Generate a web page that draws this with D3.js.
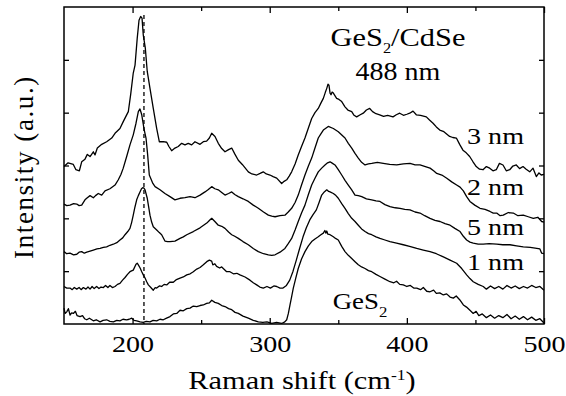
<!DOCTYPE html>
<html><head><meta charset="utf-8">
<script src="https://cdn.jsdelivr.net/npm/d3@7"></script>
<style>html,body{margin:0;padding:0;background:#fff;}svg{display:block;}</style>
</head><body><svg id="chart" width="566" height="396"></svg>
<script>
const FONT = "Liberation Serif";
const xDomain = [150, 500];
const yDomain = [0, 60];
const xMajorTicks = [200, 300, 400, 500];
const xMinorTicks = [250, 350, 450];
const yTicks = [10, 20, 30, 40, 50];
const xTitle = "Raman shift (cm";
const xTitleSup = "-1";
const yTitle = "Intensity (a.u.)";
const curveNames = ["3 nm", "2 nm", "5 nm", "1 nm", "GeS2"];
const dashedLineX = 208.3;

const curve3nm = [[150,29.8],[153,30.5],[156.8,30.2],[158.7,29.2],[161.2,29.0],[162.9,30.7],[165.3,31.2],[167,32.1],[169,31.7],[171.4,32.6],[172.6,32.0],[174.3,33.3],[177.5,34.0],[181.1,34.5],[184.8,35.2],[187.2,36.1],[190.8,37.0],[193.2,38.3],[196.9,40.2],[198.6,43.4],[200.5,47.5],[201.8,49.0],[203.4,54.1],[204.7,57.5],[205.9,58.2],[206.9,57.9],[207.8,54.7],[209.3,52.2],[210.7,47.8],[212.7,44.6],[215.1,40.8],[217.6,37.0],[219.5,34.5],[222.4,34.5],[224.9,34.4],[226.5,33.6],[228.5,32.8],[230.9,33.3],[233.3,33.6],[235.8,34.2],[238.2,33.9],[240.6,34.2],[243.1,33.9],[245.5,34.5],[249.2,34.0],[251.6,34.5],[254,34.6],[256,35.2],[257.7,36.1],[260.1,35.5],[262.5,34.2],[265,33.2],[267.4,32.6],[270,33.0],[272.3,33.3],[274.5,32.2],[277.1,31.0],[280,30.2],[284.4,28.8],[287,28.4],[290.5,28.2],[293,28.5],[295.3,28.8],[297.5,28.4],[300.2,28.2],[302.5,27.9],[305.1,27.6],[308.7,26.6],[310.5,27.0],[312.4,27.3],[314.2,28.0],[316,28.8],[318.5,30.3],[320.8,32.0],[323.2,33.6],[325.7,35.2],[328.2,37.1],[330.6,38.9],[333,40.0],[335.4,40.8],[337.3,41.8],[339.1,42.7],[340.5,43.8],[341.6,44.6],[342.5,45.4],[343.2,45.2],[344,43.7],[344.7,43.4],[345.5,43.9],[346.4,43.7],[348.8,42.7],[350.5,42.5],[352.5,42.1],[354.9,41.1],[357,40.5],[359.8,40.2],[361.5,39.5],[363.4,39.2],[366,39.6],[368.2,39.9],[370.5,40.5],[372.9,40.8],[375,40.2],[377.5,39.8],[380.2,39.6],[383,39.3],[386,39.5],[389.9,39.2],[392.3,39.6],[394.8,39.9],[397.5,39.5],[400,39.7],[402.1,39.9],[404.5,40.3],[406.9,39.6],[410,39.5],[414.2,39.2],[416.5,38.6],[419.1,38.0],[421.5,37.3],[424,36.7],[427,36.4],[431.2,35.5],[433.5,35.3],[436.1,35.2],[438.5,34.0],[440.9,32.9],[443.3,32.4],[445.8,31.7],[448,30.8],[450.6,29.8],[453,29.3],[455.5,29.2],[458,29.8],[460.4,29.5],[462.8,29.0],[465.2,29.2],[467.5,30.4],[470.1,30.1],[472.5,29.0],[475,29.2],[477.3,29.9],[479.8,30.1],[482.2,29.4],[484.7,29.8],[487,29.3],[489.6,28.8],[492,29.5],[494.4,27.9],[496.3,28.6],[498,28.2],[500,28.3]];

const curve2nm = [[150,22.7],[152,22.4],[154.4,22.5],[157,22.8],[159.3,22.7],[161,22.4],[162.9,22.5],[165.3,23.5],[167,23.9],[169,24.3],[171.4,23.9],[173,24.3],[175,24.7],[177.5,24.4],[179.9,25.2],[183.5,25.6],[187.2,26.3],[189.6,27.3],[191.5,28.3],[193.2,29.5],[195.7,31.7],[198.1,33.9],[200.5,35.8],[202.5,38.0],[204.2,40.2],[205.4,40.7],[206.7,39.6],[208.3,37.0],[209.8,35.2],[211,32.0],[212.2,28.2],[213.2,27.6],[214.8,26.6],[216.4,26.0],[220,25.4],[223.6,24.7],[227.3,24.1],[230.9,23.5],[234.6,23.8],[238.2,23.9],[241.9,24.1],[245.5,23.9],[249.2,24.4],[252.8,25.0],[255,25.4],[257.7,26.0],[260,25.6],[262.5,25.4],[265,24.9],[267.4,24.4],[270,24.7],[272.3,25.0],[274.5,24.5],[277.1,24.1],[280.5,23.7],[284.4,23.2],[288,22.5],[291.7,21.9],[295.5,21.2],[299,20.6],[301.5,20.4],[303.9,20.3],[307.5,20.5],[311.1,20.6],[313.5,21.2],[316,21.9],[318.5,23.0],[320.8,24.4],[323.2,26.3],[325.7,28.2],[328.2,29.9],[330.6,31.4],[333,33.3],[335.4,35.2],[337.3,36.0],[339.1,36.7],[342.7,37.4],[346.4,37.0],[350,36.4],[354.9,35.2],[357.3,34.2],[359.8,33.3],[362.2,32.3],[364.6,31.4],[367,30.6],[369.5,30.1],[372,30.3],[374.4,30.4],[378.5,30.6],[382.8,30.4],[387.5,30.2],[392.6,30.1],[397.5,30.3],[402.3,30.4],[406,30.1],[409.6,30.1],[413.5,29.8],[416.9,29.5],[419.5,29.0],[421.8,28.5],[425.5,28.2],[429.1,27.6],[432.7,26.9],[436.3,26.3],[438.8,25.9],[441.2,25.2],[443.6,24.1],[446,23.2],[449.5,22.5],[453.3,21.9],[457,21.7],[460.6,21.3],[463,21.0],[465.5,21.0],[468,20.5],[470.3,20.6],[474,21.1],[477.6,21.0],[481,20.5],[484.9,20.6],[488.5,20.3],[492.2,20.0],[495.5,20.2],[498.3,19.4],[500,19.3]];

const curve5nm = [[150,13.7],[152,13.3],[154.4,13.4],[157,13.1],[159.3,13.2],[161,13.6],[162.9,13.7],[164.8,13.4],[166.6,13.6],[169,13.8],[171.4,14.0],[174,14.2],[176.3,14.3],[178.7,14.5],[181.1,14.6],[183.5,14.9],[186,15.1],[188.5,15.4],[190.8,15.9],[192.8,16.3],[194.5,16.9],[196.5,17.5],[198.1,18.1],[199.3,19.2],[200.5,20.6],[201.7,22.1],[203,23.5],[204.2,24.3],[205.4,25.0],[206.5,25.6],[207.4,25.8],[208.3,25.7],[209.1,25.4],[210.7,23.8],[211.7,22.2],[212.7,20.6],[213.9,19.3],[215.1,18.4],[217.6,17.8],[219.5,17.3],[221.2,16.9],[223.6,15.7],[225.5,15.6],[227.3,15.6],[230.9,15.7],[234.6,16.2],[237,16.5],[239.5,16.9],[244.3,17.5],[249.2,18.2],[254.1,19.1],[256,19.6],[257.7,20.0],[260,19.4],[262.5,18.7],[265,18.5],[267.4,18.1],[270,17.4],[272.3,16.9],[274.5,16.6],[277.1,16.2],[280.5,15.6],[284.4,15.0],[288,14.3],[291.7,13.7],[295.5,13.3],[299,13.1],[301.5,13.0],[303.9,13.1],[307.5,13.6],[311.1,14.3],[313.5,15.2],[316,16.2],[318.5,17.8],[320.8,19.4],[323.2,21.0],[325.7,22.5],[328.2,24.5],[330.6,26.3],[333,27.6],[335.4,28.8],[337.9,29.5],[340.3,30.1],[342.2,30.5],[344,30.7],[345.8,30.4],[347.6,30.1],[350,29.2],[352.5,28.2],[354.9,27.2],[357.3,26.3],[359.8,25.4],[362.2,24.4],[364.6,24.3],[367.1,24.1],[370.5,23.7],[374.4,23.5],[377.5,23.3],[380.4,23.2],[384,22.6],[387.7,22.2],[391.5,22.0],[395,21.9],[398.5,21.7],[402.3,21.6],[406,21.2],[409.6,21.0],[413,20.5],[416.9,20.0],[420.5,19.6],[424.2,19.4],[427.8,19.0],[431.5,18.7],[435,18.1],[438.8,17.5],[441.2,16.6],[443.6,15.9],[446,15.5],[448.4,15.3],[452,15.1],[455.7,15.1],[460,15.2],[465.5,15.1],[470,15.0],[475.2,15.0],[480,14.8],[484.9,14.6],[490,14.5],[494.7,14.3],[497,14.2],[498.3,13.4],[500,13.3]];

const curve1nm = [[150,7.1],[152,6.8],[154.4,6.8],[156,6.5],[157.5,6.9],[159.3,6.6],[161,6.9],[162.5,6.5],[164.1,6.9],[166,6.6],[167.5,7.0],[169,6.6],[170.5,7.1],[172,6.7],[173.8,7.1],[175.5,6.7],[177,7.0],[178.7,6.9],[180.3,7.3],[182,6.9],[183.5,7.3],[185.3,6.9],[187.2,7.1],[189,7.5],[190.8,7.7],[192.7,8.3],[194.5,8.8],[196.3,9.4],[198.1,9.9],[200.5,10.2],[202.5,11.3],[203.4,11.5],[204.2,11.2],[205.5,10.6],[206.7,9.9],[208,9.2],[209.1,8.7],[210.3,8.0],[211.5,7.4],[213.3,6.9],[215.1,6.4],[216.5,6.9],[217.6,6.8],[219.5,7.2],[221.2,7.1],[223,7.5],[224.9,7.4],[227,7.9],[229.7,7.9],[232,8.4],[234.6,8.7],[237,8.9],[239.5,9.3],[242,9.5],[244.3,9.9],[246.8,10.4],[249.2,10.7],[251.6,11.2],[254.1,11.8],[256,12.1],[257.7,11.9],[258.5,11.2],[260,11.4],[261.3,10.9],[263.5,10.6],[265,10.8],[268.6,9.9],[271,9.9],[273.5,9.5],[276,9.6],[278.3,9.3],[282,8.9],[285.6,8.3],[288,7.8],[290.5,7.4],[292.8,7.0],[295.3,6.8],[298,7.1],[300.5,6.8],[303,7.2],[305.1,7.1],[307.5,6.8],[309.7,6.8],[312.2,7.3],[314.6,8.3],[317,10.0],[319.4,12.1],[321.8,14.3],[324.3,16.5],[326.7,18.2],[329.2,19.7],[331.6,20.7],[334,21.6],[336,23.0],[337.9,24.4],[339.8,25.0],[341.6,25.4],[343,25.1],[344,25.0],[346.4,24.7],[348.3,24.3],[350,23.8],[352.5,22.8],[354.9,21.9],[357.3,20.9],[359.8,20.0],[362.2,19.4],[364.6,18.7],[367,18.0],[369.5,17.5],[372,17.1],[374.4,16.9],[377.5,16.5],[380.4,16.2],[384,15.9],[387.7,15.6],[392.5,15.3],[397.4,15.0],[402,14.7],[407.2,14.3],[412,14.0],[416.9,13.7],[421.5,13.3],[426.6,12.7],[431.5,12.1],[436.3,11.5],[440,10.5],[443.6,9.3],[446,8.6],[448.4,8.0],[452,7.5],[455.7,7.1],[458,6.6],[461,7.2],[464,6.7],[467,7.1],[470,6.6],[473,7.3],[476,6.8],[479,7.2],[482,6.7],[485,7.1],[488,6.8],[491,7.3],[494,6.9],[497,7.1],[500,6.4]];

const curveGeS2 = [[150,3.0],[150.8,2.0],[152,2.3],[153.2,2.9],[154.4,1.7],[155.6,2.1],[156.8,2.0],[158.3,2.4],[159.5,1.6],[161.7,1.4],[163.5,1.6],[165,1.0],[166.6,0.8],[168.5,1.1],[171.4,0.6],[173.5,0.8],[176.3,0.4],[178.5,0.7],[181.1,0.8],[183.5,0.5],[186,0.4],[188.5,0.7],[190.8,0.6],[193,0.9],[195.7,0.8],[197.5,0.9],[199.4,1.1],[201,0.7],[203,0.6],[205.5,0.4],[207.8,0.3],[210,0.5],[212.7,0.4],[215,0.7],[217.6,0.6],[220,0.9],[222.4,0.8],[224.8,1.1],[227.3,1.4],[229.7,1.9],[232.2,2.0],[234.6,2.6],[237,2.5],[239.5,2.9],[241.9,3.0],[244.3,3.4],[246.8,3.3],[249.2,3.5],[251.6,3.6],[254,3.9],[256,4.0],[257.7,4.5],[260,4.1],[262.5,3.9],[265,3.5],[267.4,3.3],[270,2.9],[272.3,2.7],[274.7,2.2],[277.1,2.0],[280.5,1.5],[284.4,1.1],[288,0.7],[291.7,0.4],[295,0.3],[298,0.4],[301.5,0.1],[305,0.3],[308.7,0.1],[311,0.4],[312.4,0.8],[313.6,2.0],[314.8,3.6],[316,5.2],[317.2,6.8],[319,8.7],[320.8,10.5],[323.2,12.3],[325.7,13.7],[328.2,14.8],[330.6,15.6],[333,16.1],[335.4,16.5],[337.3,16.9],[339.1,17.2],[340.2,17.7],[341,17.2],[341.6,17.6],[342.4,17.0],[344,16.9],[346.4,16.5],[348,16.2],[350,15.9],[352.5,14.7],[354.9,13.7],[357.3,13.0],[359.8,12.4],[362.2,11.8],[364.6,11.2],[367,10.8],[369.5,10.5],[372,10.1],[374.4,9.9],[377.5,9.4],[380.4,9.0],[384,8.5],[387.7,8.0],[390.5,7.8],[392.5,8.1],[394.8,7.5],[397.4,7.4],[400,7.1],[402.5,7.3],[405,6.8],[407.2,6.8],[410,6.5],[412,6.9],[414.5,6.2],[416.9,6.1],[419.5,6.4],[421.5,5.8],[424,5.9],[426.6,5.5],[429,5.7],[431.5,5.1],[433.9,4.9],[436,5.3],[438.5,4.6],[441.2,3.6],[443.5,3.2],[446,2.6],[448.4,2.0],[450.5,2.4],[452.5,1.6],[455,1.9],[458,1.2],[461,1.7],[464,1.1],[467,1.6],[470,1.2],[473,1.8],[476,1.0],[479,1.5],[482,0.9],[485,1.4],[488,0.8],[491,1.3],[494,0.7],[497,1.0],[500,0.2]];

const curves = [curve3nm, curve2nm, curve5nm, curve1nm, curveGeS2];

const svg = d3.select("#chart");
const W = 566, H = 396;
const plot = {left: 64, right: 544, top: 7, bottom: 324};
const x = d3.scaleLinear().domain(xDomain).range([plot.left, plot.right]);
const y = d3.scaleLinear().domain(yDomain).range([plot.bottom, plot.top]);

svg.append("rect").attr("width", W).attr("height", H).attr("fill", "#fff");

const line = d3.line().x(d => x(d[0])).y(d => y(d[1]));
svg.append("g").selectAll("path").data(curves).join("path")
  .attr("d", line).attr("fill", "none").attr("stroke", "#000")
  .attr("stroke-width", 1.3).attr("stroke-linejoin", "round");

svg.append("line")
  .attr("x1", x(dashedLineX)).attr("x2", x(dashedLineX))
  .attr("y1", y(58.5)).attr("y2", y(0))
  .attr("stroke", "#000").attr("stroke-width", 1.3).attr("stroke-dasharray", "4,3");

function styleAxis(g) {
  g.select(".domain").remove();
  g.selectAll(".tick line").attr("stroke", "#000").attr("stroke-width", 1.3);
}
const gxMaj = svg.append("g").attr("transform", `translate(0,${plot.bottom})`)
  .call(d3.axisBottom(x).tickValues(xMajorTicks).tickSize(-6).tickFormat(d3.format("d")));
styleAxis(gxMaj);
gxMaj.attr("font-family", FONT).attr("font-size", 24);
gxMaj.selectAll(".tick text").attr("y", 28).attr("dy", null)
  .attr("fill", "#000").attr("transform", "scale(1.17,1)");
const gxMin = svg.append("g").attr("transform", `translate(0,${plot.bottom})`)
  .call(d3.axisBottom(x).tickValues(xMinorTicks).tickSize(-4).tickFormat(""));
styleAxis(gxMin);
const gtMaj = svg.append("g").attr("transform", `translate(0,${plot.top})`)
  .call(d3.axisTop(x).tickValues(xMajorTicks).tickSize(-6).tickFormat(""));
styleAxis(gtMaj);
const gtMin = svg.append("g").attr("transform", `translate(0,${plot.top})`)
  .call(d3.axisTop(x).tickValues(xMinorTicks).tickSize(-4).tickFormat(""));
styleAxis(gtMin);
const gl = svg.append("g").attr("transform", `translate(${plot.left},0)`)
  .call(d3.axisLeft(y).tickValues(yTicks).tickSize(-5).tickFormat(""));
styleAxis(gl);
const gr = svg.append("g").attr("transform", `translate(${plot.right},0)`)
  .call(d3.axisRight(y).tickValues(yTicks).tickSize(-5).tickFormat(""));
styleAxis(gr);

svg.append("rect").attr("x", plot.left).attr("y", plot.top)
  .attr("width", plot.right - plot.left).attr("height", plot.bottom - plot.top)
  .attr("fill", "none").attr("stroke", "#000").attr("stroke-width", 1.5);

function txt(px, py, size, sx, anchor) {
  return svg.append("text")
    .attr("transform", `translate(${px},${py}) scale(${sx},1)`)
    .attr("font-family", FONT).attr("font-size", size).attr("fill", "#000")
    .attr("text-anchor", anchor);
}

const xt = txt(302, 389, 26, 1.17, "middle");
xt.append("tspan").text(xTitle);
xt.append("tspan").attr("font-size", 15).attr("dy", -9).text(xTitleSup);
xt.append("tspan").attr("dy", 9).text(")");

svg.append("text")
  .attr("transform", "translate(33,167) rotate(-90)")
  .attr("font-family", FONT).attr("font-size", 27).attr("fill", "#000")
  .attr("text-anchor", "middle").attr("letter-spacing", 1.6)
  .text(yTitle);

const a1 = txt(398, 46, 26, 1.17, "middle");
a1.append("tspan").text("GeS");
a1.append("tspan").attr("font-size", 14).attr("dy", 7).text("2");
a1.append("tspan").attr("dy", -7).text("/CdSe");
txt(398, 80, 25, 1.12, "middle").text("488 nm");

const labelPos = [[443.9, 34.1], [443.9, 24.4], [443.9, 16.85], [443.9, 10.2]];
curveNames.slice(0, 4).forEach((n, i) => {
  txt(x(labelPos[i][0]), y(labelPos[i][1]), 24, 1.17, "start").text(n);
});
const gl2 = txt(x(345.9), y(2.8), 24, 1.12, "start");
gl2.append("tspan").text("GeS");
gl2.append("tspan").attr("font-size", 15).attr("dy", 8).text("2");
</script>
</body></html>
